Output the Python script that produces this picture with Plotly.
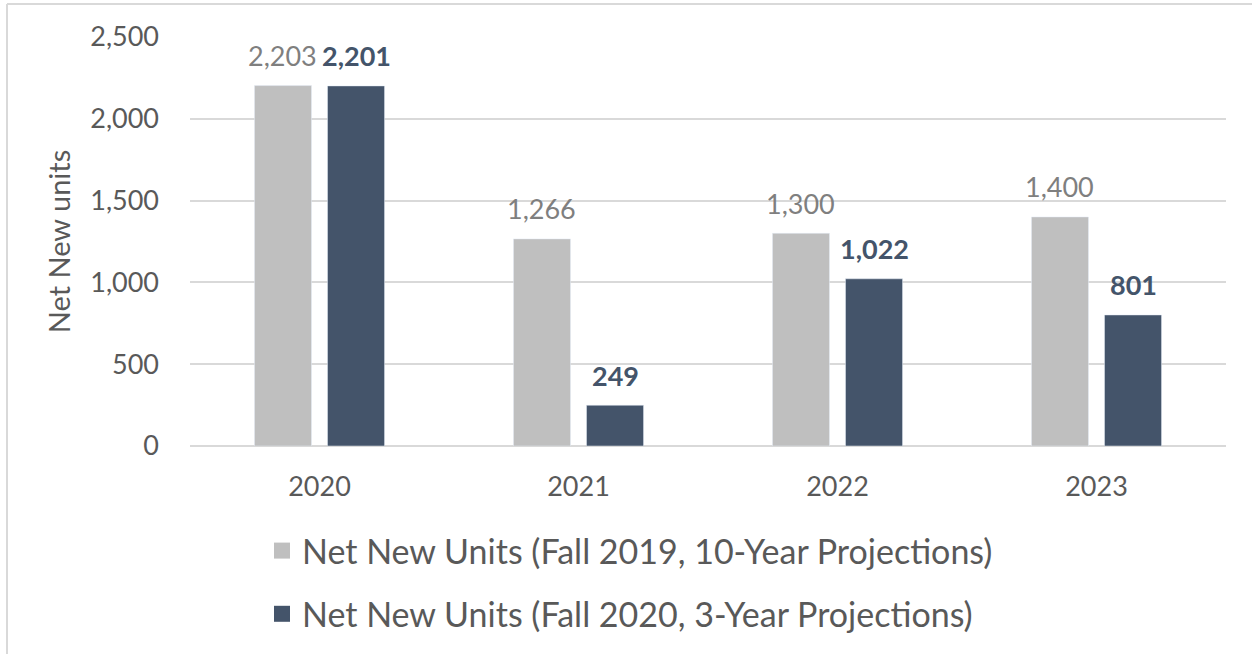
import plotly.graph_objects as go

years = ["2020", "2021", "2022", "2023"]
fall2019 = [2203, 1266, 1300, 1400]
fall2020 = [2201, 249, 1022, 801]
series_names = ["Net New Units (Fall 2019, 10-Year Projections)",
                "Net New Units (Fall 2020, 3-Year Projections)"]
y_ticks = [0, 500, 1000, 1500, 2000, 2500]
y_ticktext = ["0", "500", "1,000", "1,500", "2,000", "2,500"]

GRAY = "#bfbfbf"
DARK = "#44546a"
FONT = "Lato"

fig = go.Figure()
fig.add_trace(go.Bar(x=years, y=fall2019, marker=dict(color=GRAY), showlegend=False,
                     name=series_names[0]))
fig.add_trace(go.Bar(x=years, y=fall2020, marker=dict(color=DARK), showlegend=False,
                     name=series_names[1]))
# legend entries with larger square swatches
fig.add_trace(go.Scatter(x=[None], y=[None], mode="markers", name=series_names[0],
                         legendgroup="a", hoverinfo="skip",
                         marker=dict(symbol="square", size=20, color=GRAY)))
fig.add_trace(go.Scatter(x=[None], y=[None], mode="markers", name=series_names[1],
                         legendgroup="b", hoverinfo="skip",
                         marker=dict(symbol="square", size=20, color=DARK)))

annotations = []
for i, yr in enumerate(years):
    annotations.append(dict(x=i, y=fall2019[i], xref="x", yref="y", text=f"{fall2019[i]:,}",
                            showarrow=False, xshift=-37, yshift=30,
                            font=dict(family=FONT, size=27, color="#7f7f7f")))
    annotations.append(dict(x=i, y=fall2020[i], xref="x", yref="y", text=f"<b>{fall2020[i]:,}</b>",
                            showarrow=False, xshift=37, yshift=30,
                            font=dict(family=FONT, size=27, color=DARK)))

L, R, T, B = 190, 1226, 37, 446
W, H = 1252, 654
def px(xp):
    return (xp - L) / (R - L)
def py(yp):
    return (B - yp) / (B - T)

shapes = [
    dict(type="line", xref="paper", yref="paper", x0=px(7), x1=px(1260), y0=py(4), y1=py(4),
         line=dict(color="#d9d9d9", width=2)),
    dict(type="line", xref="paper", yref="paper", x0=px(7), x1=px(7), y0=py(4), y1=py(660),
         line=dict(color="#d9d9d9", width=2)),
]

fig.update_layout(
    width=W, height=H,
    margin=dict(l=L, r=W - R, t=T, b=H - B, autoexpand=False),
    paper_bgcolor="white", plot_bgcolor="white",
    barmode="group", bargap=0.436, bargroupgap=0.219,
    font=dict(family=FONT, color="#595959"),
    annotations=annotations, shapes=shapes,
    legend=dict(orientation="v", x=px(262), xanchor="left", y=py(522), yanchor="top",
                font=dict(family=FONT, size=34, color="#595959"),
                tracegroupgap=16, itemwidth=30, bgcolor="rgba(0,0,0,0)"),
    xaxis=dict(type="category", range=[-0.5, 3.5], showgrid=False, showline=False, ticks="",
               ticklabelstandoff=22,
               tickfont=dict(family=FONT, size=27, color="#595959")),
    yaxis=dict(range=[0, 2500], tickvals=y_ticks, ticktext=y_ticktext,
               showgrid=True, gridcolor="#d9d9d9", gridwidth=1.5,
               zeroline=True, zerolinecolor="#d9d9d9", zerolinewidth=1.5,
               showline=False, ticks="", ticklabelstandoff=30,
               tickfont=dict(family=FONT, size=27, color="#595959")),
)
fig.update_yaxes(title=dict(text="Net New units", standoff=11,
                            font=dict(family=FONT, size=29, color="#595959")))

fig.write_html("out.html", config={"displayModeBar": False},
               post_script="document.body.style.margin='0';")
